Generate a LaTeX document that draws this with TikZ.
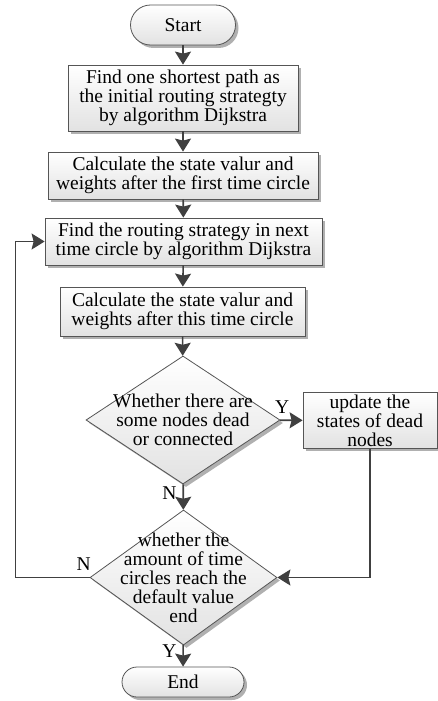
\documentclass[tikz,border=0pt]{standalone}
\usepackage{fontspec}
\setmainfont{Liberation Serif}
\usetikzlibrary{positioning,arrows.meta,shapes.geometric,shadows}
\definecolor{linegray}{HTML}{404040}
\definecolor{edgegray}{HTML}{555555}
\definecolor{shadegray}{HTML}{e2e2e2}
\definecolor{shadowgray}{HTML}{b0b0b0}

\begin{document}
\begin{tikzpicture}[
    x=1pt,y=-1pt,
    >={Stealth[length=13pt,width=16pt,inset=2pt]},
    every node/.style={font=\fontsize{19.5}{19}\selectfont},
    procbox/.style={
        rectangle,
        draw=edgegray,
        line width=0.8pt,
        top color=white,
        bottom color=shadegray,
        drop shadow={shadow xshift=3pt,shadow yshift=-3pt,fill=shadowgray,opacity=1},
        align=center,
        inner sep=2pt,
    },
    termbox/.style={procbox,rounded corners=#1},
    decision/.style={
        diamond,
        draw=edgegray,
        line width=0.8pt,
        top color=white,
        bottom color=shadegray,
        drop shadow={shadow xshift=3pt,shadow yshift=-3pt,fill=shadowgray,opacity=1},
        inner sep=0pt,
    },
    flow/.style={->,line width=1.6pt,color=linegray},
    tag/.style={text=black,inner sep=0pt},
]
\useasboundingbox (0,0) rectangle (438,701);

% === Terminals ===
\node[termbox=20pt,minimum width=105pt,minimum height=40pt] (start) at (183,25) {Start};
\node[termbox=15pt,minimum width=122pt,minimum height=30pt] (stop) at (183,682) {End};

% === Process steps ===
\node[procbox,minimum width=230pt,minimum height=66pt] (init) at (183,98)
    {Find one shortest path as\\the initial routing strategty\\by algorithm Dijkstra};
\node[procbox,minimum width=270pt,minimum height=47pt] (calcfirst) at (183,175.5)
    {Calculate the state valur and\\weights after the first time circle};
\node[procbox,minimum width=277pt,minimum height=47pt] (route) at (183.5,241.5)
    {Find the routing strategy in next\\time circle by algorithm Dijkstra};
\node[procbox,minimum width=245pt,minimum height=49pt] (calcthis) at (182.5,311.5)
    {Calculate the state valur and\\weights after this time circle};

% === Decisions ===
\node[decision,minimum width=194pt,minimum height=128pt,
    label={[align=center]center:Whether there are\\some nodes dead\\or connected}] (dead) at (183,420) {};
\node[procbox,minimum width=134pt,minimum height=55pt] (update) at (370,420.5)
    {update the\\states of dead\\nodes};
\node[decision,minimum width=187pt,minimum height=135pt,
    label={[align=center]center:whether the\\amount of time\\circles reach the\\default value\\end}] (reach) at (183.5,577.5) {};

% === Connectors ===
\draw[flow] (start) -- (init);
\draw[flow] (init) -- (calcfirst);
\draw[flow] (calcfirst) -- (route);
\draw[flow] (route) -- (calcthis);
\draw[flow] (calcthis) -- (dead);
\draw[flow] (dead) -- node[tag,pos=0.1,above=6pt] (yesdead) {Y} (update);
\draw[flow] (dead) -- node[tag,pos=0.35,left=6pt] (nodead) {N} (reach);
\draw[flow] (update.south) |- (reach.east);
\draw[flow] (reach.west) -- node[tag,pos=0.08,above=6pt] (noend) {N} ++(-74,0) |- (route.west);
\draw[flow] (reach) -- node[tag,pos=0.3,left=6pt] (yesend) {Y} (stop);

\end{tikzpicture}
\end{document}
